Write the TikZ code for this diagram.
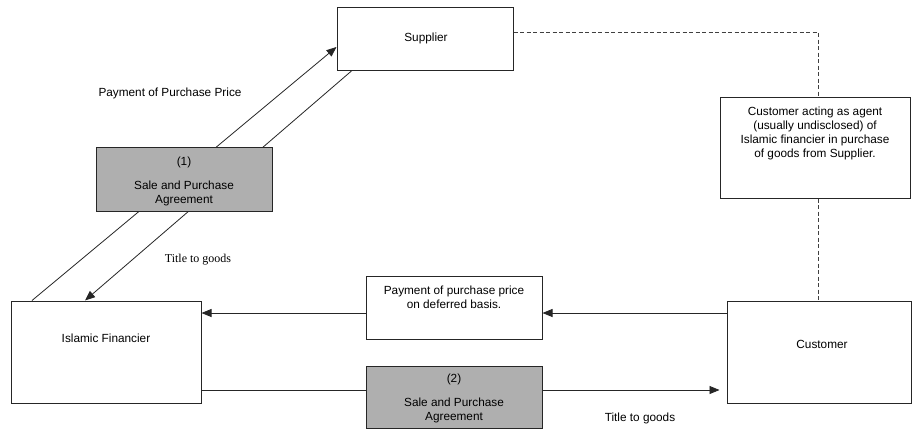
\documentclass[tikz,border=0pt]{standalone}
\usepackage{fontspec}
\setmainfont{Liberation Sans}
\newfontfamily\serifx{Liberation Serif}
\usetikzlibrary{arrows.meta,backgrounds}
\definecolor{boxgray}{RGB}{175,175,175}
\begin{document}
\begin{tikzpicture}[x=1pt,y=-1pt,
  box/.style={draw=black!85,line width=1pt,fill=white,inner sep=0pt},
  graybox/.style={box,fill=boxgray},
  txt/.style={font=\fontsize{11.8}{14}\selectfont,align=center,inner sep=0pt},
  conn/.style={line width=0.8pt,draw=black!85},
  arr/.style={conn,-{Triangle[length=10pt,width=8pt]}},
  dashline/.style={line width=0.9pt,draw=black!75,dash pattern=on 4pt off 2.5pt}]
\useasboundingbox (0,0) rectangle (912,431);
% boxes
\node[box,minimum width=176pt,minimum height=63pt] (sup) at (425,38.5) {};
\node[graybox,minimum width=176pt,minimum height=64pt] (agr1) at (184,179) {};
\node[box,minimum width=190pt,minimum height=101pt] (agent) at (815,147.5) {};
\node[box,minimum width=190pt,minimum height=102pt] (fin) at (106,352) {};
\node[box,minimum width=184pt,minimum height=102pt] (cust) at (819,352) {};
\node[box,minimum width=176pt,minimum height=63pt] (pay) at (454,307.5) {};
\node[graybox,minimum width=176pt,minimum height=62pt] (agr2) at (454,397) {};
% texts
\node[txt] (supT) at (426,38) {Supplier};
\node[txt] (payPP) at (170,93) {Payment of Purchase Price};
\node[txt] (n1) at (184,162) {(1)};
\node[txt] (agr1T) at (184,193) {Sale and Purchase\\Agreement};
\node[txt,font=\serifx\fontsize{12}{14}\selectfont] (title1) at (198,260) {Title to goods};
\node[txt] (agentT) at (815,133) {Customer acting as agent\\(usually undisclosed) of\\Islamic financier in purchase\\of goods from Supplier.};
\node[txt] (finT) at (106,338) {Islamic Financier};
\node[txt] (payT) at (454,297.5) {Payment of purchase price\\on deferred basis.};
\node[txt] (custT) at (822,344) {Customer};
\node[txt] (n2) at (454,379) {(2)};
\node[txt] (agr2T) at (454,410.5) {Sale and Purchase\\Agreement};
\node[txt] (title2) at (640,418) {Title to goods};
% connectors
\begin{scope}[on background layer]
\fill[white] (0,0) rectangle (912,431);
\draw[arr] ([xshift=-74pt]fin.north) -- ([yshift=-8.5pt]sup.west);
\draw[arr] ([xshift=-73pt]sup.south) -- ([xshift=-21pt]fin.north);
\end{scope}
\draw[dashline] ([yshift=6.5pt]sup.east) -| ([xshift=3pt]agent.north);
\draw[dashline] ([xshift=3pt]agent.south) -- ([xshift=-1pt]cust.north);
\draw[arr] ([yshift=39pt]cust.west) -- ([yshift=-5.5pt]pay.east);
\draw[arr] ([yshift=-5.5pt]pay.west) -- ([yshift=39pt]fin.east);
\draw[conn] ([yshift=-38pt]fin.east) -- ([yshift=7pt]agr2.west);
\draw[arr,shorten >=7pt] ([yshift=7pt]agr2.east) -- ([yshift=-38pt]cust.west);
\end{tikzpicture}
\end{document}
